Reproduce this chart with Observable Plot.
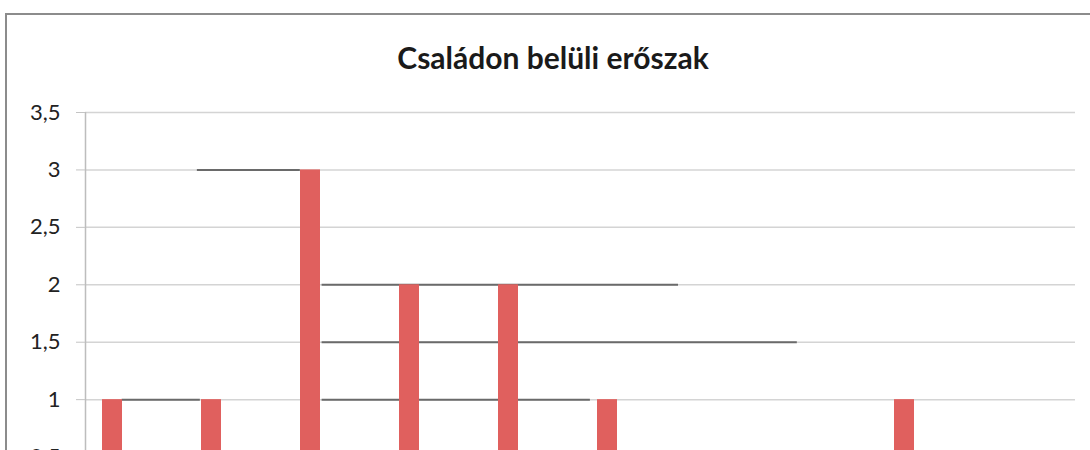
<!DOCTYPE html>
<html>
<head>
<meta charset="utf-8">
<script src="https://cdn.jsdelivr.net/npm/d3@7"></script>
<script src="https://cdn.jsdelivr.net/npm/@observablehq/plot@0.6"></script>
<style>
  body { margin: 0; background: #fff; width: 1090px; height: 450px; overflow: hidden; position: relative; }
  #frame { position: absolute; left: 5px; top: 13px; width: 1200px; height: 600px;
           border-left: 2px solid #8c8c8c; border-top: 2px solid #8c8c8c; }
  #title { position: absolute; top: 39px; left: 0; width: 1106px; text-align: center;
           font: 700 30px Lato, "Open Sans", sans-serif; color: #1a1a1a; }
  #chart { position: absolute; left: 0; top: 0; }
</style>
</head>
<body>
<div id="frame"></div>
<div id="title">Családon belüli erőszak</div>
<div id="chart"></div>
<script>
// Categories (their labels are cut off in the reference; placeholders)
const categories = ["1", "2", "3", "4", "5", "6", "7", "8", "9", "10"];
// Series values
const values = [1, 1, 3, 2, 2, 1, 0, 0, 1, 0];
// Y tick values
const yTicks = [0, 0.5, 1, 1.5, 2, 2.5, 3, 3.5];
// Dark scan-artifact segments over gridlines: value, start/end in category units
const scanLineValues = [3, 2, 1.5, 1, 1];
const scanLineFrom   = [1.13, 2.39, 2.39, 0.37, 2.39];
const scanLineTo     = [2.17, 5.99, 7.19, 1.16, 5.10];

const bars = categories.map((c, i) => ({category: c, index: i, value: values[i]}));
const scanLines = scanLineValues.map((v, i) => ({value: v, from: scanLineFrom[i], to: scanLineTo[i]}));

const chart = Plot.plot({
  width: 1090,
  height: 560,
  marginLeft: 85,
  marginRight: 15,
  marginTop: 112,
  marginBottom: 46,
  style: {fontFamily: "Lato, 'Open Sans', sans-serif", fontSize: "22px", color: "#222", background: "transparent"},
  x: {domain: [0, categories.length], axis: null},
  y: {domain: [0, 3.5], axis: null},
  marks: [
    Plot.ruleY(yTicks, {stroke: "#d4d4d4", strokeWidth: 1.5}),
    Plot.ruleY(scanLines, {y: "value", x1: "from", x2: "to", stroke: "#6a6a6a", strokeWidth: 2}),
    Plot.ruleX([0], {stroke: "#bdbdbd", strokeWidth: 1.5}),
    Plot.axisY({
      ticks: yTicks,
      label: null,
      tickSize: 9,
      tickPadding: 16,
      stroke: "#c4c4c4",
      fill: "#222",
      tickFormat: d => String(d).replace(".", ",")
    }),
    Plot.rectY(bars, {
      x1: d => d.index,
      x2: d => d.index + 1,
      y: "value",
      insetLeft: 17,
      insetRight: 62,
      fill: "#e0605e"
    })
  ]
});
document.getElementById("chart").appendChild(chart);
</script>
</body>
</html>
